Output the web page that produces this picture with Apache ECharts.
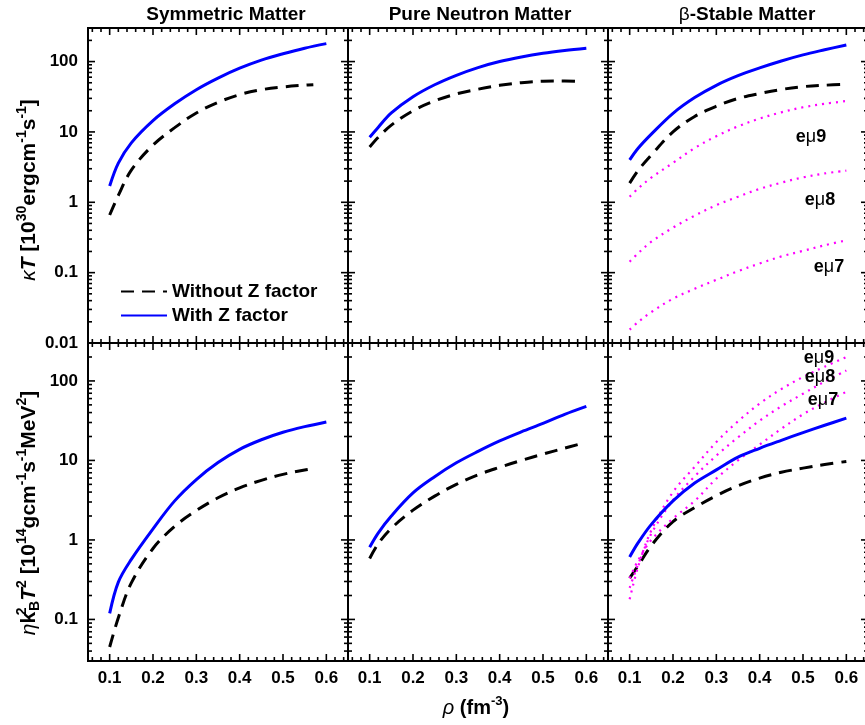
<!DOCTYPE html>
<html><head><meta charset="utf-8">
<script src="https://cdn.jsdelivr.net/npm/echarts@6/dist/echarts.min.js"></script>
<style>html,body{margin:0;padding:0;background:#fff}#c{width:865px;height:725px}</style>
</head><body><div id="c"></div>
<script>
// ---------------- data ----------------
const rho        = [0.10,0.12,0.15,0.20,0.25,0.30,0.35,0.40,0.45,0.50,0.55,0.60];
const rhoSymDash = [0.10,0.12,0.15,0.20,0.25,0.30,0.35,0.40,0.45,0.50,0.55,0.57];
const rhoPnmDash = [0.10,0.12,0.15,0.20,0.25,0.30,0.35,0.40,0.45,0.50,0.55,0.58];

// kappa*T  [10^30 erg cm^-1 s^-1]
const symKappaWithout = [0.66,1.25,2.87,6.5,11.5,18.6,26.3,33.9,39.8,43.6,46.2,47];
const symKappaWith    = [1.7,3.6,7.0,14.5,25.1,39.8,58.2,80.4,104.7,129,155,180];
const pnmKappaWithout = [6.1,8.4,12.5,20,27.6,34.7,40.5,46,50.1,52.6,53,52.5];
const pnmKappaWith    = [8.4,11.7,18.6,31.6,46.8,63.8,82.2,100,116.1,130.9,143.6,155];
const bsmKappaWithout = [1.87,2.86,4.7,10,16.6,23.2,29.9,35.1,40.1,44,46.1,47.5];
const bsmKappaWith    = [4.0,5.9,9.3,18.4,30.8,46,63,81.3,102,124.5,147,172];
const bsmKappaEmu9    = [1.2,1.58,2.24,3.63,5.9,8.7,12.0,15.5,19.0,22.4,25.1,27.5];
const bsmKappaEmu8    = [0.143,0.19,0.275,0.436,0.646,0.91,1.2,1.55,1.9,2.26,2.57,2.82];
const bsmKappaEmu7    = [0.0155,0.02,0.0275,0.0427,0.059,0.079,0.105,0.135,0.17,0.204,0.245,0.288];

// eta*kB^2*T^2  [10^14 g cm^-1 s^-1 MeV^2]
const symEtaWithout = [0.045,0.105,0.288,0.78,1.48,2.34,3.39,4.52,5.62,6.68,7.59,7.89];
const symEtaWith    = [0.119,0.295,0.57,1.38,3.1,5.75,9.4,13.8,18.2,22.6,26.6,30.5];
const pnmEtaWithout = [0.585,0.9,1.4,2.37,3.56,5.0,6.6,8.2,10,12,14.3,15.8];
const pnmEtaWith    = [0.81,1.23,2.0,3.9,6.24,9.33,13.0,17.6,22.9,29.2,38,47.9];
const bsmEtaWithout = [0.33,0.48,0.85,1.7,2.55,3.6,4.8,6.0,7.1,8.0,8.9,9.7];
const bsmEtaWith    = [0.61,0.93,1.57,3.1,5.2,7.6,11.0,14.2,17.9,22.4,27.7,34];
const bsmEtaEmu9    = [0.18,0.47,1.32,4.0,8.3,17,31,52,79,112,151,200];
const bsmEtaEmu8    = [0.25,0.5,1.2,3.16,6.3,11.5,19.5,31.6,47.9,69,98,135];
const bsmEtaEmu7    = [0.33,0.56,1.0,1.86,3.1,5.9,10,15.8,25,38,53.7,73];

// ticks / labels
const xTickLabels   = ['0.1','0.2','0.3','0.4','0.5','0.6'];
const xMajorTicks   = [0.1,0.2,0.3,0.4,0.5,0.6];
const xMinorTicks   = [0.06,0.08,0.12,0.14,0.16,0.18,0.22,0.24,0.26,0.28,0.32,0.34,0.36,0.38,
                       0.42,0.44,0.46,0.48,0.52,0.54,0.56,0.58,0.62,0.64];
const kappaTickLabels = ['0.01','0.1','1','10','100'];
const kappaMajorTicks = [0.01,0.1,1,10,100];
const kappaMinorTicks = [0.02,0.03,0.04,0.05,0.06,0.07,0.08,0.09,0.2,0.3,0.4,0.5,0.6,0.7,0.8,0.9,
                         2,3,4,5,6,7,8,9,20,30,40,50,60,70,80,90,200];
const etaTickLabels = ['0.1','1','10','100'];
const etaMajorTicks = [0.1,1,10,100];
const etaMinorTicks = [0.04,0.05,0.06,0.07,0.08,0.09,0.2,0.3,0.4,0.5,0.6,0.7,0.8,0.9,
                       2,3,4,5,6,7,8,9,20,30,40,50,60,70,80,90,200];

const panelTitles = ['Symmetric Matter','Pure Neutron Matter','β-Stable Matter'];
const nameWithout = 'Without Z factor';
const nameWith = 'With Z factor';

// ---------------- layout / style ----------------
const FONT = '"Liberation Sans", Arial, Helvetica, sans-serif';
const COL_LEFT = [88, 348, 608], COL_W = 260;
const ROW_TOP = [28, 343], ROW_H = [315, 318];
const Y_RANGE = [[0.01, 300], [0.03, 300]];
const MAJ = 7, MIN = 4;
const BLUE = '#0000ff', PINK = '#ff00ff';

const zip = (xs, ys) => xs.map((x, i) => [x, ys[i]]);

const panelSeries = [
  [{n: nameWithout, x: rhoSymDash, y: symKappaWithout, k: 'dash'}, {n: nameWith, x: rho, y: symKappaWith, k: 'solid'}],
  [{n: nameWithout, x: rhoPnmDash, y: pnmKappaWithout, k: 'dash'}, {n: nameWith, x: rho, y: pnmKappaWith, k: 'solid'}],
  [{n: nameWithout, x: rho, y: bsmKappaWithout, k: 'dash'}, {n: nameWith, x: rho, y: bsmKappaWith, k: 'solid'},
   {n: 'eμ9', x: rho, y: bsmKappaEmu9, k: 'dot'}, {n: 'eμ8', x: rho, y: bsmKappaEmu8, k: 'dot'}, {n: 'eμ7', x: rho, y: bsmKappaEmu7, k: 'dot'}],
  [{n: nameWithout, x: rhoSymDash, y: symEtaWithout, k: 'dash'}, {n: nameWith, x: rho, y: symEtaWith, k: 'solid'}],
  [{n: nameWithout, x: rhoPnmDash, y: pnmEtaWithout, k: 'dash'}, {n: nameWith, x: rho, y: pnmEtaWith, k: 'solid'}],
  [{n: nameWithout, x: rho, y: bsmEtaWithout, k: 'dash'}, {n: nameWith, x: rho, y: bsmEtaWith, k: 'solid'},
   {n: 'eμ9', x: rho, y: bsmEtaEmu9, k: 'dot'}, {n: 'eμ8', x: rho, y: bsmEtaEmu8, k: 'dot'}, {n: 'eμ7', x: rho, y: bsmEtaEmu7, k: 'dot'}]
];

const grids = [], xAxes = [], yAxes = [], series = [];
const labelStyle = {fontSize: 17, fontWeight: 'bold', fontFamily: FONT, color: '#000'};

for (let g = 0; g < 6; g++) {
  const row = Math.floor(g / 3), col = g % 3;
  grids.push({left: COL_LEFT[col], top: ROW_TOP[row], width: COL_W, height: ROW_H[row],
    show: true, borderColor: '#000', borderWidth: 2, backgroundColor: 'transparent',
    containLabel: false, outerBoundsMode: 'none'});
  xAxes.push({gridIndex: g, type: 'value', min: 0.05, max: 0.65,
    axisLine: {show: false}, axisTick: {show: false}, splitLine: {show: false}, minorTick: {show: false},
    axisLabel: Object.assign({show: row === 1, margin: 9, showMinLabel: false, showMaxLabel: false,
      formatter: v => { const i = xMajorTicks.findIndex(t => Math.abs(t - v) < 1e-6); return i >= 0 ? xTickLabels[i] : ''; }}, labelStyle)});
  const majors = row === 0 ? kappaMajorTicks : etaMajorTicks;
  const labs = row === 0 ? kappaTickLabels : etaTickLabels;
  yAxes.push({gridIndex: g, type: 'log', logBase: 10, min: Y_RANGE[row][0], max: Y_RANGE[row][1],
    axisLine: {show: false}, axisTick: {show: false}, splitLine: {show: false}, minorTick: {show: false},
    axisLabel: Object.assign({show: col === 0, margin: 10,
      formatter: v => { const i = majors.findIndex(t => Math.abs(t - v) / t < 1e-6); return i >= 0 ? labs[i] : ''; }}, labelStyle)});

  panelSeries[g].forEach(s => {
    const ls = s.k === 'solid' ? {color: BLUE, width: 3, type: 'solid'}
             : s.k === 'dash' ? {color: '#000', width: 3, type: [13, 8]}
             : {color: PINK, width: 2.2, type: [2, 5]};
    series.push({type: 'line', name: s.n, xAxisIndex: g, yAxisIndex: g, data: zip(s.x, s.y),
      showSymbol: false, symbol: 'none', smooth: 0.35, lineStyle: ls, itemStyle: {color: ls.color},
      z: s.k === 'solid' ? 4 : 3, silent: true, animation: false});
  });

  const yMaj = row === 0 ? kappaMajorTicks : etaMajorTicks;
  const yMin = row === 0 ? kappaMinorTicks : etaMinorTicks;
  series.push({type: 'custom', name: 'ticks', xAxisIndex: g, yAxisIndex: g, silent: true, clip: false,
    z: 6, animation: false, data: [[0.3, 1]],
    renderItem: (params, api) => {
      const cs = params.coordSys;
      const L = cs.x, R = cs.x + cs.width, T = cs.y, B = cs.y + cs.height;
      const ch = [];
      const line = (x1, y1, x2, y2) => ch.push({type: 'line', shape: {x1, y1, x2, y2}, style: {stroke: '#000', lineWidth: 1.6}});
      xMajorTicks.forEach(v => { const x = api.coord([v, 1])[0]; line(x, B, x, B - MAJ); line(x, T, x, T + MAJ); });
      xMinorTicks.forEach(v => { const x = api.coord([v, 1])[0]; line(x, B, x, B - MIN); line(x, T, x, T + MIN); });
      yMaj.forEach(v => { const y = api.coord([0.3, v])[1]; line(L, y, L + MAJ, y); line(R, y, R - MAJ, y); });
      yMin.forEach(v => { const y = api.coord([0.3, v])[1]; line(L, y, L + MIN, y); line(R, y, R - MIN, y); });
      return {type: 'group', children: ch};
    }});
}

const rich = {
  b:   {fontSize: 21, fontWeight: 'bold', fontFamily: FONT, lineHeight: 27, verticalAlign: 'middle', color: '#000'},
  it:  {fontSize: 21, fontStyle: 'italic', fontFamily: FONT, lineHeight: 27, verticalAlign: 'middle', color: '#000'},
  bi:  {fontSize: 21, fontStyle: 'italic', fontWeight: 'bold', fontFamily: FONT, lineHeight: 27, verticalAlign: 'middle', color: '#000'},
  sup: {fontSize: 14, fontWeight: 'bold', fontFamily: FONT, lineHeight: 14, verticalAlign: 'top', color: '#000'},
  sub: {fontSize: 14, fontWeight: 'bold', fontFamily: FONT, lineHeight: 14, verticalAlign: 'bottom', color: '#000'},
  sup0:{fontSize: 14, fontWeight: 'bold', fontFamily: FONT, lineHeight: 14, verticalAlign: 'top', width: 1, align: 'left', color: '#000'},
  xb:  {fontSize: 20, fontWeight: 'bold', fontFamily: FONT, lineHeight: 26, verticalAlign: 'middle', color: '#000'},
  xi:  {fontSize: 20, fontStyle: 'italic', fontFamily: FONT, lineHeight: 26, verticalAlign: 'middle', color: '#000'},
  xs:  {fontSize: 13, fontWeight: 'bold', fontFamily: FONT, lineHeight: 13, verticalAlign: 'top', color: '#000'},
  g:   {fontSize: 19, fontFamily: FONT, lineHeight: 26, verticalAlign: 'middle', color: '#000'},
  t:   {fontSize: 19, fontWeight: 'bold', fontFamily: FONT, lineHeight: 26, verticalAlign: 'middle', color: '#000'}
};
const emuRich = {
  e: {fontSize: 18, fontWeight: 'bold', fontFamily: FONT},
  m: {fontSize: 18, fontFamily: FONT}
};
const txt = (x, y, text, extra) => Object.assign({type: 'text', x, y, silent: true, z: 20,
  style: {text, rich, align: 'center', verticalAlign: 'middle', fill: '#000'}}, extra || {});
const emu = (x, y, n) => ({type: 'text', x, y, silent: true, z: 20,
  style: {text: '{e|e}{m|μ}{e|' + n + '}', rich: emuRich, align: 'center', verticalAlign: 'middle', fill: '#000'}});

const graphics = [
  txt(226, 15, '{t|' + panelTitles[0] + '}'),
  txt(480, 15, '{t|' + panelTitles[1] + '}'),
  txt(747, 15, '{g|β}{t|-Stable Matter}'),
  txt(29, 190, '{it|κ}{bi|T}{b| [10}{sup|30}{b|ergcm}{sup|-1}{b|s}{sup|-1}{b|]}', {rotation: Math.PI / 2}),
  txt(29, 513, '{it|η}{b|k}{sup0|2}{sub|B}{bi|T}{sup|2}{b| [10}{sup|14}{b|gcm}{sup|-1}{b|s}{sup|-1}{b|MeV}{sup|2}{b|]}', {rotation: Math.PI / 2}),
  txt(476, 708, '{xi|ρ}{xb| (fm}{xs|-3}{xb|)}'),
  emu(811, 137, '9'), emu(820, 200, '8'), emu(829, 267, '7'),
  emu(819, 358, '9'), emu(820, 377, '8'), emu(823, 400, '7')
];

const chart = echarts.init(document.getElementById('c'), null, {renderer: 'canvas'});
chart.setOption({
  animation: false,
  backgroundColor: '#fff',
  grid: grids, xAxis: xAxes, yAxis: yAxes, series,
  legend: {data: [nameWithout, nameWith], orient: 'vertical', left: 120, top: 282, padding: 0,
    itemWidth: 46, itemHeight: 14, itemGap: 5, selectedMode: false,
    itemStyle: {opacity: 0},
    textStyle: {fontSize: 19, fontWeight: 'bold', fontFamily: FONT, color: '#000'}},
  graphic: graphics
});
</script></body></html>
